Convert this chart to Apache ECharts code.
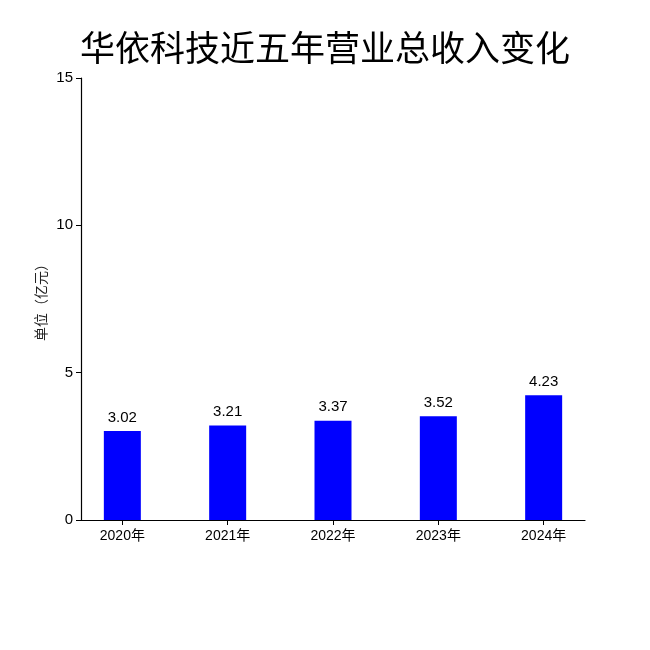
<!DOCTYPE html>
<html>
<head>
<meta charset="utf-8">
<script src="https://cdn.jsdelivr.net/npm/echarts@6/dist/echarts.min.js"></script>
<style>
html,body{margin:0;padding:0;background:#fff;}
#chart{width:650px;height:650px;}
</style>
</head>
<body>
<div id="chart"></div>
<script>
const categories = ['2020年', '2021年', '2022年', '2023年', '2024年'];
const revenue = [3.02, 3.21, 3.37, 3.52, 4.23];
const yTicks = [0, 5, 10, 15];
const titleText = '华依科技近五年营业总收入变化';
const yName = '单位（亿元）';

const chart = echarts.init(document.getElementById('chart'));
const idx = categories.map((c, i) => i);
const font = '"Liberation Sans", "Noto Sans CJK SC", sans-serif';
chart.setOption({
  animation: false,
  title: {
    text: titleText,
    left: 'center',
    top: 25,
    textStyle: { fontSize: 35, fontWeight: 'normal', color: '#000', fontFamily: '"Noto Sans CJK SC", sans-serif' }
  },
  grid: { left: 81, right: 65, top: 78, bottom: 130, containLabel: false },
  xAxis: {
    type: 'value',
    min: -0.3925,
    max: 4.3925,
    splitLine: { show: false },
    axisLine: { show: true, onZero: false, lineStyle: { color: '#000', width: 1.2 } },
    axisTick: { show: true, customValues: idx, length: 5, lineStyle: { color: '#000' } },
    axisLabel: {
      customValues: idx,
      formatter: v => categories[Math.round(v)],
      color: '#000', fontSize: 14, margin: 9, fontFamily: font
    }
  },
  yAxis: {
    type: 'value',
    min: yTicks[0],
    max: yTicks[yTicks.length - 1],
    interval: 5,
    name: yName,
    nameLocation: 'middle',
    nameGap: 32,
    nameMoveOverlap: false,
    nameTextStyle: { fontSize: 14, color: '#222', fontFamily: font },
    splitLine: { show: false },
    axisLine: { show: true, onZero: false, lineStyle: { color: '#000', width: 1.2 } },
    axisTick: { show: true, length: 5, lineStyle: { color: '#000' } },
    axisLabel: { color: '#000', fontSize: 15, margin: 8, fontFamily: font }
  },
  series: [{
    type: 'bar',
    data: revenue.map((v, i) => [i, v]),
    barWidth: 37,
    itemStyle: { color: '#0000FF' },
    label: {
      show: true,
      position: 'top',
      distance: 6,
      color: '#000',
      fontSize: 15,
      fontFamily: font,
      formatter: p => p.value[1].toFixed(2)
    }
  }]
});
</script>
</body>
</html>
